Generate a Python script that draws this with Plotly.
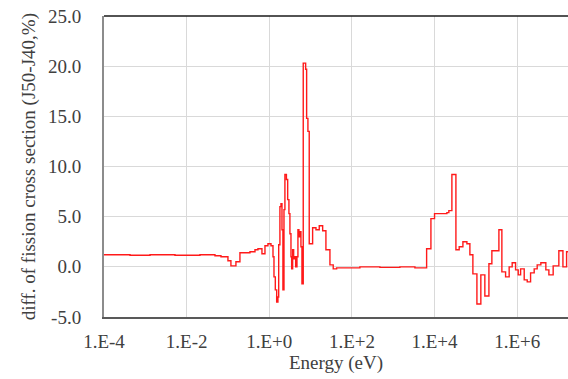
import plotly.graph_objects as go

# Group boundary energies (eV) and step values (%)
energy_eV = [
    1.0e-4, 4.26e-4, 1.30e-3, 5.22e-3, 2.10e-2, 4.85e-2, 6.78e-2, 0.100, 0.118, 0.156,
    0.195, 0.341, 0.451, 0.532, 0.665, 0.787, 0.929, 1.10, 1.23, 1.30,
    1.40, 1.51, 1.62, 1.69, 1.81, 1.92, 2.03, 2.14, 2.27, 2.39,
    2.60, 2.79, 2.99, 3.16, 3.35, 3.48, 3.68, 3.89, 4.11, 4.35,
    4.68, 4.94, 5.22, 5.52, 5.84, 6.18, 6.64, 7.59, 8.02, 8.62,
    9.27, 11.2, 13.5, 16.2, 19.6, 23.5, 29.4, 35.3, 42.7, 156.0,
    476.0, 1450.0, 3350.0, 6430.0, 8170.0, 1.00e4, 1.99e4, 2.22e4, 2.63e4, 3.29e4,
    3.95e4, 4.86e4, 6.07e4, 7.17e4, 8.47e4, 1.06e5, 1.32e5, 1.65e5, 2.07e5, 2.44e5,
    3.61e5, 4.26e5, 5.24e5, 6.40e5, 7.57e5, 9.14e5, 1.06e6, 1.21e6, 1.48e6, 1.75e6,
    2.11e6, 2.58e6, 3.05e6, 3.74e6, 4.94e6, 5.85e6, 7.43e6, 1.02e7, 1.28e7, 1.57e7,
    2.0e7,
]
diff_pct = [
    1.2, 1.15, 1.2, 1.15, 1.2, 1.1, 1.0, 0.6, 0.1, 0.5,
    1.4, 1.5, 1.7, 1.8, 1.3, 2.1, 2.3, 2.1, 1.0, -1.0,
    -2.3, -3.5, -3.0, 2.2, 6.0, 6.3, 3.7, -2.3, 5.7, 9.2,
    8.7, 6.7, 5.3, 3.3, 1.0, -0.2, 1.7, 0.8, 1.0, 0.0,
    1.0, 3.7, 3.0, 3.5, 2.0, -1.7, 20.3, 19.7, 14.8, 13.5,
    2.3, 3.9, 3.7, 4.1, 3.6, 1.7, 0.2, -0.2, -0.1, 0.0,
    -0.05, 0.0, -0.1, 1.8, 4.8, 5.3, 5.4, 5.6, 9.2, 1.7,
    2.0, 2.5, 2.3, 1.2, -0.7, -3.7, -0.8, -2.9, 0.3, 1.6,
    3.7, -0.5, -1.0, 0.0, 0.4, -0.3, -0.8, -0.2, -1.3, -1.5,
    -0.6, -0.2, 0.2, 0.4, -0.3, -0.8, 0.1, 1.6, 0.0, 1.5,
    1.5,
]

x_tick_vals = [1e-4, 1e-2, 1e0, 1e2, 1e4, 1e6]
x_tick_text = ["1.E-4", "1.E-2", "1.E+0", "1.E+2", "1.E+4", "1.E+6"]
y_tick_vals = [-5, 0, 5, 10, 15, 20, 25]
y_tick_text = ["-5.0", "0.0", "5.0", "10.0", "15.0", "20.0", "25.0"]
x_title = "Energy (eV)"
y_title = "diff. of fission cross section (J50-J40,%)"

FONT = "Liberation Serif"
TXT = "#404040"
tick_font = dict(family=FONT, size=19, color=TXT)

fig = go.Figure()
fig.add_trace(go.Scatter(
    x=energy_eV, y=diff_pct, mode="lines",
    line=dict(color="#ff1a1a", width=1.4, shape="hv"),
    showlegend=False,
))

fig.update_layout(
    width=568, height=379,
    margin=dict(l=104, r=0, t=16, b=62),
    paper_bgcolor="white", plot_bgcolor="white",
    font=dict(family=FONT, size=19, color=TXT),
    xaxis=dict(
        type="log", range=[-4, 7.23], automargin=False,
        tickvals=x_tick_vals, ticktext=x_tick_text, tickfont=tick_font,
        showgrid=True, gridcolor="#d9d9d9", gridwidth=1,
        showline=True, linecolor="#595959", linewidth=2,
        ticks="", ticklabelstandoff=6, zeroline=False,
    ),
    yaxis=dict(
        range=[-5, 25], automargin=False,
        tickvals=y_tick_vals, ticktext=y_tick_text, tickfont=tick_font,
        showgrid=True, gridcolor="#d9d9d9", gridwidth=1,
        showline=True, linecolor="#8c8c8c", linewidth=2,
        ticks="", ticklabelstandoff=17, zeroline=False,
    ),
    shapes=[dict(type="line", xref="paper", yref="paper", x0=0, x1=1, y0=1, y1=1,
                 line=dict(color="#1a1a1a", width=1.5))],
    annotations=[
        dict(text=x_title, xref="paper", yref="paper", x=0.5, y=-0.1535,
             xanchor="center", yanchor="middle", showarrow=False,
             font=dict(family=FONT, size=19, color=TXT)),
        dict(text=y_title, xref="paper", yref="paper", x=-0.162, y=0.5,
             xanchor="center", yanchor="middle", showarrow=False, textangle=-90,
             font=dict(family=FONT, size=19, color=TXT)),
    ],
)

fig.write_html(
    "out.html",
    config={"displayModeBar": False},
    post_script="document.body.style.margin='0';document.body.style.overflow='hidden';",
)
